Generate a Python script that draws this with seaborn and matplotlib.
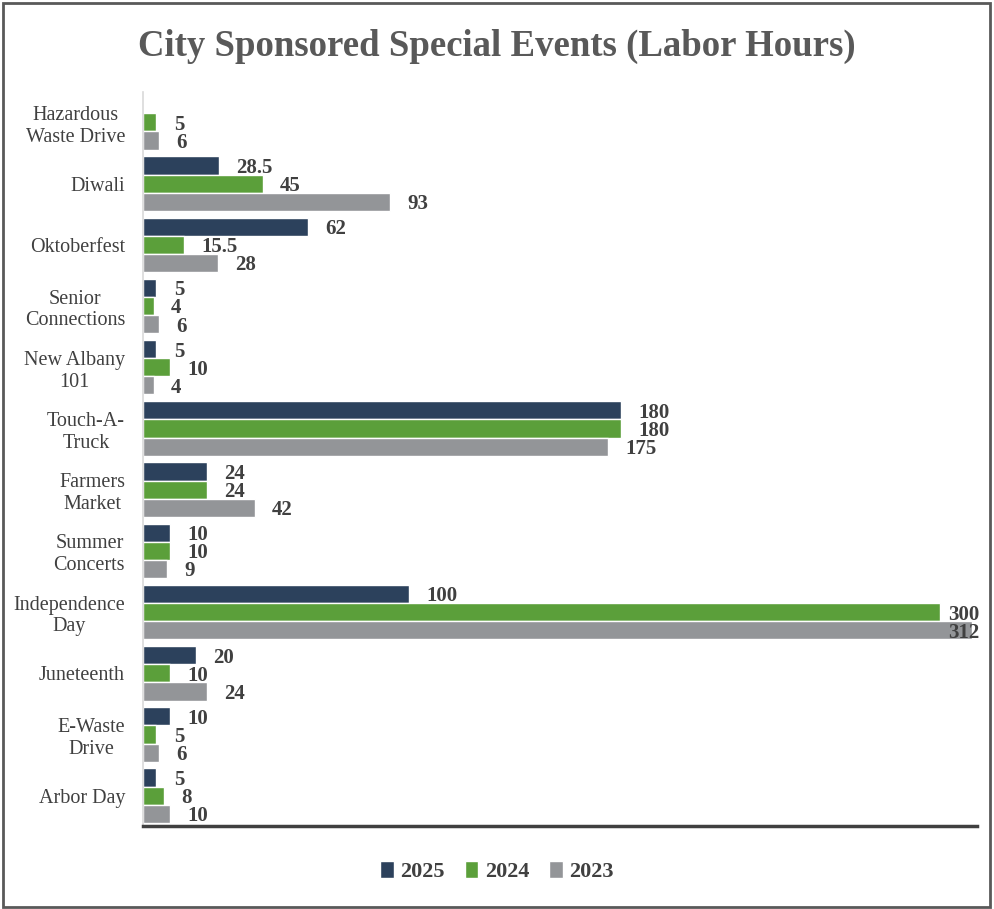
import numpy as np
import pandas as pd
import seaborn as sns
import matplotlib.pyplot as plt
from matplotlib.patches import Rectangle

# Data
events = ["Hazardous\nWaste Drive", "Diwali", "Oktoberfest", "Senior\nConnections",
          "New Albany\n101", "Touch-A-\nTruck", "Farmers\nMarket", "Summer\nConcerts",
          "Independence\nDay", "Juneteenth", "E-Waste\nDrive", "Arbor Day"]
hours_2025 = [np.nan, 28.5, 62, 5, 5, 180, 24, 10, 100, 20, 10, 5]
hours_2024 = [5, 45, 15.5, 4, 10, 180, 24, 10, 300, 10, 5, 8]
hours_2023 = [6, 93, 28, 6, 4, 175, 42, 9, 312, 24, 6, 10]
years = ["2025", "2024", "2023"]
colors = ["#2C415C", "#5B9F3A", "#939598"]

df = pd.concat([
    pd.DataFrame({"Event": events, "Year": y, "Hours": v})
    for y, v in zip(years, [hours_2025, hours_2024, hours_2023])
], ignore_index=True)

sns.set_style("white")
plt.rcParams["font.family"] = ["Liberation Serif", "DejaVu Serif"]

fig = plt.figure(figsize=(9.94, 9.09), dpi=100)
ax = fig.add_axes([0.144, 0.091, 0.839, 0.808])

sns.barplot(data=df, y="Event", x="Hours", hue="Year", order=events,
            hue_order=years, palette=colors, orient="h", width=0.89,
            saturation=1, ax=ax)

xmax = 314
ax.set_xlim(0, xmax)

# value labels: outside end, pulled back inside the plot when they would overflow
for cont in ax.containers:
    for bar, w in zip(cont.patches, cont.datavalues):
        if np.isnan(w):
            continue
        yc = bar.get_y() + bar.get_height() / 2
        if w > 290:
            ax.text(xmax + 1, yc + 0.04, f"{w:g}", ha="right", va="center",
                    fontsize=15, fontweight="bold", color="#404040")
        else:
            ax.text(w + 6.5, yc + 0.04, f"{w:g}", ha="left", va="center",
                    fontsize=15, fontweight="bold", color="#404040")

ax.set_xlabel("")
ax.set_ylabel("")
ax.set_xticks([])
ax.tick_params(axis="y", which="major", length=0, labelsize=14.5, labelcolor="#404040", pad=13)
for t in ax.get_yticklabels():
    t.set_multialignment("center")
ax.set_yticks(np.arange(-0.5, len(events), 1), minor=True)
ax.tick_params(axis="y", which="minor", length=5, color="#D9D9D9", width=1.2)

for s in ["top", "right"]:
    ax.spines[s].set_visible(False)
ax.spines["left"].set_color("#D9D9D9")
ax.spines["left"].set_linewidth(1.2)
ax.spines["bottom"].set_color("#404040")
ax.spines["bottom"].set_linewidth(2.5)

fig.suptitle("City Sponsored Special Events (Labor Hours)", x=0.5, y=0.968,
             fontsize=26.5, fontweight="bold", color="#595959")

ax.legend(loc="center", bbox_to_anchor=(0.5, 0.041), bbox_transform=fig.transFigure,
          ncol=3, frameon=False, handlelength=0.6, handleheight=0.8,
          handletextpad=0.3, columnspacing=0.9,
          prop={"size": 16, "weight": "bold"}, labelcolor="#404040")

fig.patches.append(Rectangle((0.003, 0.002), 0.993, 0.995, transform=fig.transFigure,
                             fill=False, edgecolor="#595959", linewidth=2))

fig.savefig("out.png", dpi=100)
